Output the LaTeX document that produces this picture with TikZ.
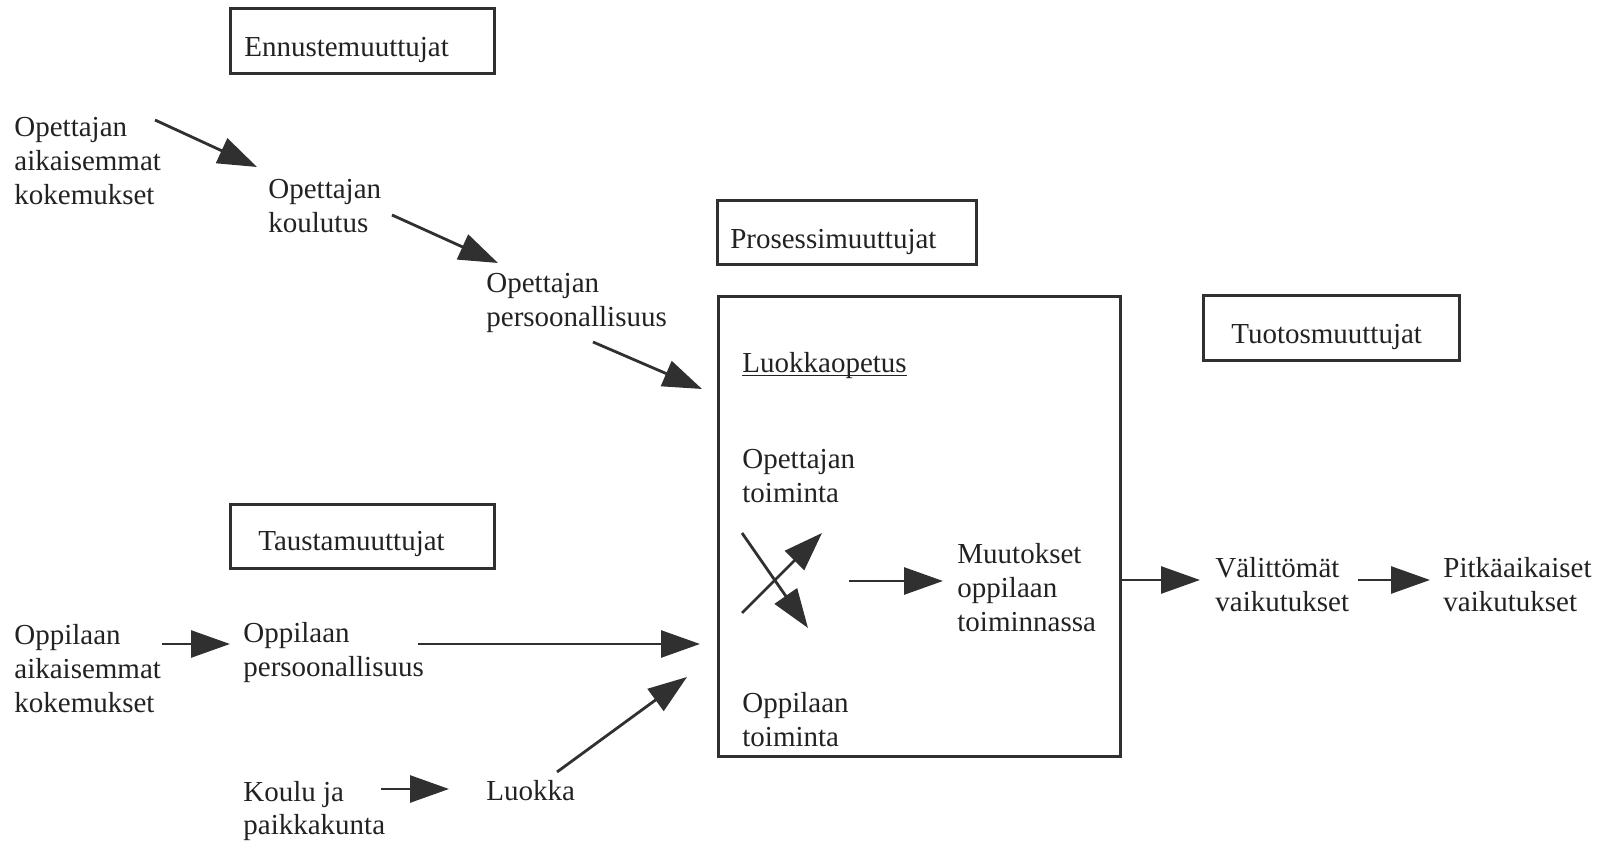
\documentclass[tikz,border=0pt]{standalone}
\usepackage{fontspec}
\setmainfont{Liberation Serif}
\usetikzlibrary{arrows.meta}
\definecolor{ink}{HTML}{222222}
\definecolor{lineink}{HTML}{303030}

\begin{document}
\begin{tikzpicture}[x=0.5pt,y=-0.5pt,
  % text nodes are placed by the baseline of their last line
  txt/.style={anchor=base west, inner sep=0pt, align=left, text=ink,
              font=\fontsize{14.5}{17}\selectfont},
  catbox/.style={draw=lineink, line width=1.3pt, inner ysep=0pt, anchor=north west,
                 align=left, text=ink, font=\fontsize{14.5}{17}\selectfont},
  conn/.style={draw=lineink, line width=1.4pt, -{Triangle[length=19.5pt,width=13.5pt]}},
]
\useasboundingbox (0,0) rectangle (1608,849);

% category headings
\node[catbox, text width=118pt, inner xsep=7pt, text height=24pt, text depth=8.5pt]
  (enn) at (229,7) {Ennustemuuttujat};
\node[catbox, text width=116.5pt, inner xsep=6.5pt, text height=24pt, text depth=8pt]
  (pros) at (716,199) {Prosessimuuttujat};
\node[catbox, text width=100pt, inner xsep=14pt, text height=24pt, text depth=8.5pt]
  (tuot) at (1202,294) {Tuotosmuuttujat};
\node[catbox, text width=104pt, inner xsep=14pt, text height=23pt, text depth=9pt]
  (taus) at (229,503) {Taustamuuttujat};

% classroom process frame
\node[draw=lineink, line width=1.3pt, anchor=north west, inner sep=0pt,
      minimum width=201pt, minimum height=230pt] (proc) at (717,295) {};

% variables
\node[txt] (oak)    at (14,205)  {Opettajan\\aikaisemmat\\kokemukset};
\node[txt] (okoul)  at (268,233) {Opettajan\\koulutus};
\node[txt] (opers)  at (486,327) {Opettajan\\persoonallisuus};
\node[txt] (lop)    at (742,373) {Luokkaopetus};
\draw[draw=ink, line width=0.7pt] ([yshift=-1.2pt]lop.base west) -- ([yshift=-1.2pt]lop.base east);
\node[txt] (otoim)  at (742,503) {Opettajan\\toiminta};
\node[txt] (muut)   at (957,632) {Muutokset\\oppilaan\\toiminnassa};
\node[txt] (optoim) at (742,747) {Oppilaan\\toiminta};
\node[txt] (valit)  at (1215,612) {Välittömät\\vaikutukset};
\node[txt] (pitka)  at (1443,612) {Pitkäaikaiset\\vaikutukset};
\node[txt] (oppak)  at (14,713)  {Oppilaan\\aikaisemmat\\kokemukset};
\node[txt] (oppers) at (243,677) {Oppilaan\\persoonallisuus};
\node[txt] (koulu)  at (243,835) {Koulu ja\\paikkakunta};
\node[txt] (luokka) at (486,801) {Luokka};

% connector end points
\coordinate (oakR)   at (155,120);  \coordinate (okoulL) at (257,167);
\coordinate (okoulR) at (392,215);  \coordinate (opersL) at (498,263);
\coordinate (opersR) at (593,342);  \coordinate (procT)  at (702,389);
\coordinate (xaS) at (742,533);     \coordinate (xaE) at (808,628);
\coordinate (xbS) at (742,613);     \coordinate (xbE) at (822,533);
\coordinate (xR)  at (849,581);     \coordinate (muutL) at (943,581);
\coordinate (procR) at (1119,580);  \coordinate (valitL) at (1200,580);
\coordinate (valitR) at (1358,580); \coordinate (pitkaL) at (1430,580);
\coordinate (oppakR) at (162,644);  \coordinate (oppersL) at (230,644);
\coordinate (oppersR) at (418,644); \coordinate (procM) at (700,644);
\coordinate (kouluR) at (381,789);  \coordinate (luokkaL) at (449,789);
\coordinate (luokkaR) at (557,772); \coordinate (procB) at (687,677);

% connectors
\draw[conn] (oakR) -- (okoulL);
\draw[conn] (okoulR) -- (opersL);
\draw[conn] (opersR) -- (procT);
\draw[conn] (xaS) -- (xaE);
\draw[conn] (xbS) -- (xbE);
\draw[conn] (xR) -- (muutL);
\draw[conn] (procR) -- (valitL);
\draw[conn] (valitR) -- (pitkaL);
\draw[conn] (oppakR) -- (oppersL);
\draw[conn] (oppersR) -- (procM);
\draw[conn] (kouluR) -- (luokkaL);
\draw[conn] (luokkaR) -- (procB);
\end{tikzpicture}
\end{document}
